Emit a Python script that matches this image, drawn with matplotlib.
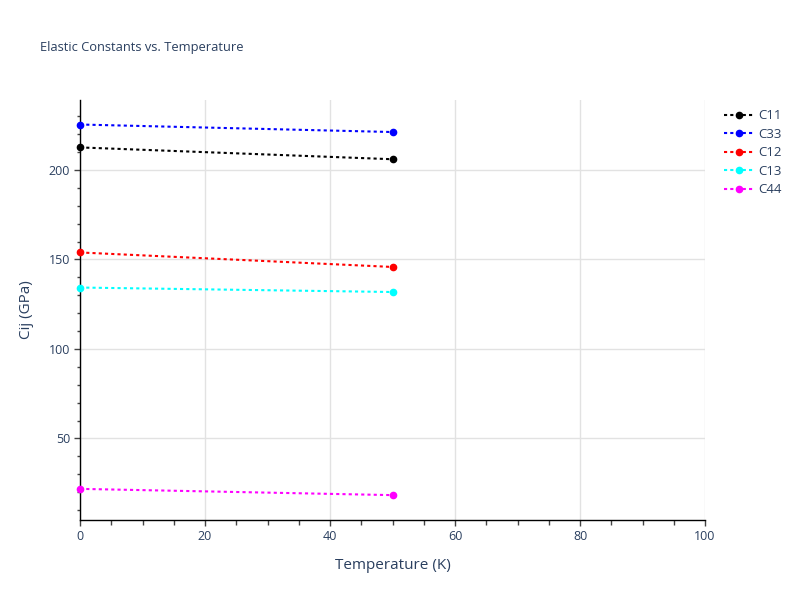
import matplotlib
matplotlib.use("Agg")
import matplotlib.pyplot as plt
from matplotlib.ticker import MultipleLocator

plt.rcParams['font.family'] = ['Open Sans', 'DejaVu Sans']

temperature = [0, 50]
series_names = ["C11", "C33", "C12", "C13", "C44"]
c11 = [212.6, 206.0]
c33 = [225.4, 221.2]
c12 = [153.9, 145.8]
c13 = [134.3, 131.8]
c44 = [21.8, 18.3]
series_values = [c11, c33, c12, c13, c44]
colors = ["black", "blue", "red", "cyan", "magenta"]

x_ticks = [0, 20, 40, 60, 80, 100]
y_ticks = [50, 100, 150, 200]

text_color = "#2a3f5f"

fig = plt.figure(figsize=(8, 6), dpi=100)
ax = fig.add_axes([0.1, 1 - 520 / 600, 625 / 800, 420 / 600])

for name, vals, col in zip(series_names, series_values, colors):
    ax.plot(temperature, vals, color=col, linestyle=(0, (1.5, 1.5)), linewidth=1.5,
            marker='o', markersize=4.5, label=name, clip_on=False, zorder=3)

ax.set_xlim(0, 100)
ax.set_ylim(4.4, 239.1)
ax.set_xticks(x_ticks)
ax.set_yticks(y_ticks)
ax.xaxis.set_minor_locator(MultipleLocator(5))
ax.yaxis.set_minor_locator(MultipleLocator(10))

ax.grid(True, which='major', color='#e2e2e2', linewidth=1)
ax.set_axisbelow(True)

for s in ['top', 'right']:
    ax.spines[s].set_visible(False)
for s in ['left', 'bottom']:
    ax.spines[s].set_color('black')
    ax.spines[s].set_linewidth(1)

ax.tick_params(axis='both', which='major', length=4, width=1, color='#444',
               labelsize=9, labelcolor=text_color, pad=3)
ax.tick_params(axis='both', which='minor', length=3.5, width=1, color='#444')
ax.tick_params(axis='y', which='minor', length=2.5)

ax.set_xlabel("Temperature (K)", fontsize=11, color=text_color, labelpad=11)
ax.set_ylabel("Cij (GPa)", fontsize=11, color=text_color, labelpad=11)

fig.text(40 / 800, 1 - 47 / 600, "Elastic Constants vs. Temperature",
         fontsize=9.3, color=text_color, ha='left', va='center')

leg = ax.legend(loc='upper left', bbox_to_anchor=(719 / 800, 1 - 104 / 600),
                bbox_transform=fig.transFigure, frameon=False,
                fontsize=9.5, handlelength=2.2, handletextpad=0.35,
                labelspacing=0.42, borderaxespad=0)
for t in leg.get_texts():
    t.set_color(text_color)

fig.savefig("out.png", dpi=100)
